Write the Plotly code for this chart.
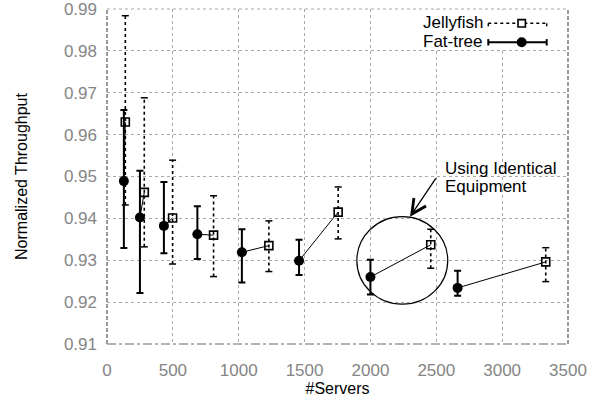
import plotly.graph_objects as go

# Fat-tree sizes (k^3/4 servers) and normalized throughput statistics
ft_servers = [128, 250, 432, 686, 1024, 1458, 2000, 2662]
ft_mean = [0.9489, 0.9402, 0.9382, 0.9362, 0.9319, 0.9299, 0.9260, 0.9234]
ft_high = [0.9659, 0.9514, 0.9487, 0.9429, 0.9374, 0.9349, 0.9301, 0.9275]
ft_low = [0.9329, 0.9222, 0.9317, 0.9303, 0.9247, 0.9265, 0.9218, 0.9215]

# Jellyfish built from the same equipment supports more servers
jf_servers = [139, 283, 498, 809, 1229, 1755, 2458, 3331]
jf_mean = [0.9630, 0.9462, 0.9401, 0.9360, 0.9335, 0.9415, 0.9337, 0.9296]
jf_high = [0.9884, 0.9688, 0.9539, 0.9454, 0.9394, 0.9475, 0.9374, 0.9330]
jf_low = [0.9432, 0.9332, 0.9291, 0.9261, 0.9273, 0.9351, 0.9281, 0.9249]

x_ticks = [0, 500, 1000, 1500, 2000, 2500, 3000, 3500]
y_ticks = [0.91, 0.92, 0.93, 0.94, 0.95, 0.96, 0.97, 0.98, 0.99]

FONT = "Liberation Sans, Arial, Helvetica, sans-serif"
GRID = "#a8a8a8"
BORDER = "#9a9a9a"

W, H = 599, 402
ML, MR, MT, MB = 107, 31, 9, 58


def px_x(p):
    return (p - ML) / (W - ML - MR)


def px_y(p):
    return (H - MB - p) / (H - MT - MB)


fig = go.Figure()

# thin lines pairing each fat-tree with the jellyfish of identical equipment
pair_x, pair_y = [], []
for a, b, c, d in zip(ft_servers, jf_servers, ft_mean, jf_mean):
    pair_x += [a, b, None]
    pair_y += [c, d, None]
fig.add_trace(go.Scatter(x=pair_x, y=pair_y, mode="lines",
                         line=dict(color="black", width=1),
                         hoverinfo="skip", showlegend=False))

# jellyfish dotted error bars
eb_x, eb_y = [], []
for x, lo, hi in zip(jf_servers, jf_low, jf_high):
    eb_x += [x, x, None]
    eb_y += [lo, hi, None]
fig.add_trace(go.Scatter(x=eb_x, y=eb_y, mode="lines",
                         line=dict(color="black", width=1.6, dash="dot"),
                         hoverinfo="skip", showlegend=False))
fig.add_trace(go.Scatter(x=jf_servers + jf_servers, y=jf_low + jf_high,
                         mode="markers",
                         marker=dict(symbol="line-ew", size=5, color="black",
                                     line=dict(color="black", width=1.5)),
                         hoverinfo="skip", showlegend=False))

# fat-tree points with solid error bars
fig.add_trace(go.Scatter(
    x=ft_servers, y=ft_mean, mode="markers", name="Fat-tree",
    marker=dict(symbol="circle", size=10, color="black"),
    error_y=dict(type="data", symmetric=False,
                 array=[h - m for h, m in zip(ft_high, ft_mean)],
                 arrayminus=[m - l for m, l in zip(ft_mean, ft_low)],
                 color="black", thickness=2, width=3.5),
    showlegend=False))

# jellyfish points
fig.add_trace(go.Scatter(
    x=jf_servers, y=jf_mean, mode="markers", name="Jellyfish",
    marker=dict(symbol="square-open", size=8, color="black",
                line=dict(color="black", width=1.6)),
    showlegend=False))

shapes = []
# frame: dotted top, dashed sides, dash-dot bottom
shapes.append(dict(type="line", xref="paper", yref="paper", x0=0, x1=1, y0=1, y1=1,
                   line=dict(color=GRID, width=1, dash="dot")))
shapes.append(dict(type="line", xref="paper", yref="paper", x0=0, x1=0, y0=0, y1=1,
                   line=dict(color=BORDER, width=2, dash="4px,2px")))
shapes.append(dict(type="line", xref="paper", yref="paper", x0=1, x1=1, y0=0, y1=1,
                   line=dict(color=BORDER, width=2, dash="4px,2px")))
shapes.append(dict(type="line", xref="paper", yref="paper", x0=0, x1=1, y0=0, y1=0,
                   line=dict(color=BORDER, width=1.6, dash="dashdot")))

# ring around the equal-equipment pair
shapes.append(dict(type="circle", xref="x", yref="y",
                   x0=1897, x1=2587, y0=0.9195, y1=0.9404,
                   line=dict(color="black", width=1.2)))

# key with opaque background
shapes.append(dict(type="rect", xref="paper", yref="paper",
                   x0=px_x(416), x1=px_x(566), y0=px_y(50), y1=px_y(10),
                   fillcolor="white", line=dict(width=0)))
kx0, kx1, kxc = px_x(488.3), px_x(546.7), px_x(521.7)
ky_jf, ky_ft = px_y(23.3), px_y(42.3)
shapes.append(dict(type="line", xref="paper", yref="paper", x0=kx0, x1=kx1,
                   y0=ky_jf, y1=ky_jf, line=dict(color="black", width=1.5, dash="dot")))
for kx in (kx0, kx1):
    shapes.append(dict(type="line", xref="paper", yref="paper", x0=kx, x1=kx,
                       y0=px_y(26.3), y1=px_y(20.3),
                       line=dict(color="black", width=1.5, dash="dot")))
shapes.append(dict(type="rect", xref="paper", yref="paper",
                   x0=px_x(518), x1=px_x(525.4), y0=px_y(27), y1=px_y(19.6),
                   fillcolor="white", line=dict(color="black", width=1.6)))
shapes.append(dict(type="line", xref="paper", yref="paper", x0=kx0, x1=kx1,
                   y0=ky_ft, y1=ky_ft, line=dict(color="black", width=2)))
for kx in (kx0, kx1):
    shapes.append(dict(type="line", xref="paper", yref="paper", x0=kx, x1=kx,
                       y0=px_y(45.5), y1=px_y(39.1),
                       line=dict(color="black", width=2)))
shapes.append(dict(type="circle", xref="paper", yref="paper",
                   x0=px_x(516.7), x1=px_x(526.7), y0=px_y(47.3), y1=px_y(37.3),
                   fillcolor="black", line=dict(color="black", width=0)))

annotations = [
    dict(text="Jellyfish", xref="paper", yref="paper", x=px_x(485), y=px_y(22.3),
         xanchor="right", yanchor="middle", showarrow=False,
         font=dict(family=FONT, size=17, color="black")),
    dict(text="Fat-tree", xref="paper", yref="paper", x=px_x(485), y=px_y(41),
         xanchor="right", yanchor="middle", showarrow=False,
         font=dict(family=FONT, size=17, color="black")),
    # arrow pointing at the ring
    dict(text="", x=2301, y=0.9404, xref="x", yref="y",
         ax=2504, ay=0.9499, axref="x", ayref="y",
         showarrow=True, arrowhead=5, arrowsize=2.2, arrowwidth=1.3,
         arrowcolor="black"),
    dict(text="Using Identical", xref="x", yref="y", x=2548, y=0.9519,
         xanchor="left", yanchor="middle", showarrow=False,
         font=dict(family=FONT, size=17, color="black")),
    dict(text="Equipment", xref="x", yref="y", x=2548, y=0.9475,
         xanchor="left", yanchor="middle", showarrow=False,
         font=dict(family=FONT, size=17, color="black")),
]

fig.update_layout(
    width=W, height=H,
    margin=dict(l=ML, r=MR, t=MT, b=MB),
    paper_bgcolor="white", plot_bgcolor="white",
    font=dict(family=FONT, size=17, color="black"),
    shapes=shapes, annotations=annotations,
    xaxis=dict(range=[0, 3500], tickvals=x_ticks,
               ticktext=[str(v) for v in x_ticks],
               showgrid=True, gridcolor=GRID, griddash="dot", gridwidth=1,
               zeroline=False, showline=False, ticks="", automargin=False,
               ticklabelstandoff=14, ticklabeloverflow="allow",
               tickfont=dict(family=FONT, size=17, color="#858585"),
               title=dict(text="#Servers", standoff=2,
                          font=dict(family=FONT, size=16, color="black"))),
    yaxis=dict(range=[0.9099999, 0.9900001], tickvals=y_ticks,
               ticktext=[f"{v:.2f}" for v in y_ticks],
               showgrid=True, gridcolor=GRID, griddash="dot", gridwidth=1,
               zeroline=False, showline=False, ticks="", automargin=False,
               ticklabelstandoff=9, ticklabeloverflow="allow",
               tickfont=dict(family=FONT, size=17, color="#858585"),
               title=dict(text="Normalized Throughput", standoff=32,
                          font=dict(family=FONT, size=16, color="black"))),
)

fig.write_html("out.html")
